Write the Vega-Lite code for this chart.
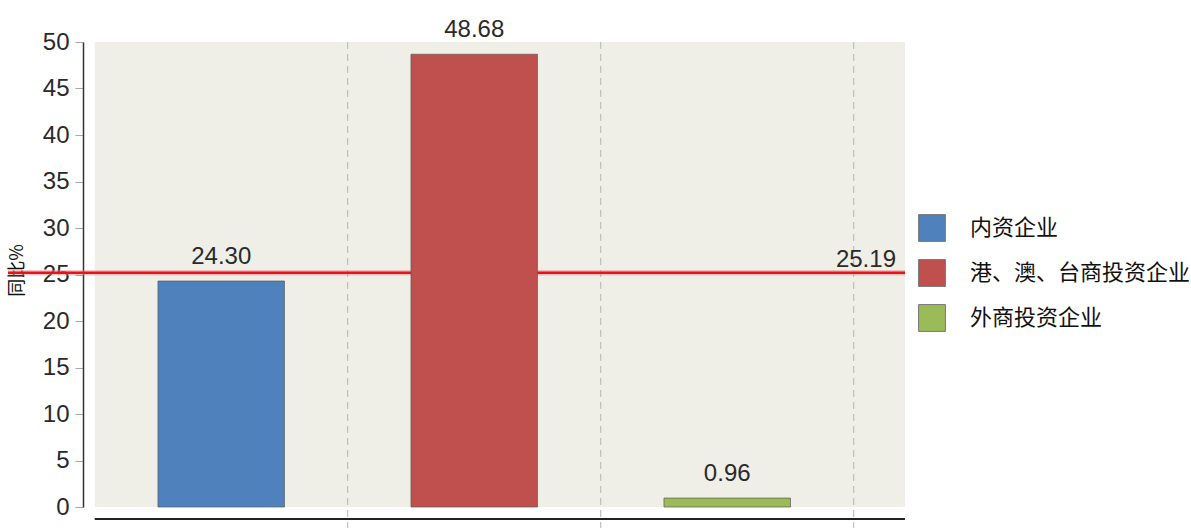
{
  "$schema": "https://vega.github.io/schema/vega-lite/v6.json",
  "width": 897,
  "height": 465,
  "padding": {"left": 8, "top": 42, "right": 286, "bottom": 21},
  "autosize": {"type": "none"},
  "background": "white",
  "config": {"view": {"stroke": null}},
  "datasets": {
    "bars": [
      {"类别": "内资企业", "同比": 24.30},
      {"类别": "港、澳、台商投资企业", "同比": 48.68},
      {"类别": "外商投资企业", "同比": 0.96}
    ],
    "avg": [{"平均": 25.19}]
  },
  "layer": [
    {
      "data": {"name": "avg"},
      "mark": {"type": "rect", "fill": "#efefe8"},
      "encoding": {
        "x": {"datum": "内资企业", "type": "nominal", "bandPosition": -0.5, "axis": null},
        "x2": {"datum": "外商投资企业", "bandPosition": 1.905},
        "y": {
          "datum": 0,
          "type": "quantitative",
          "scale": {"domain": [0, 50], "nice": false},
          "axis": {
            "offset": -75,
            "values": [0, 5, 10, 15, 20, 25, 30, 35, 40, 45, 50],
            "tickSize": 8,
            "tickColor": "#a8a8a8",
            "domainColor": "#333333",
            "domainWidth": 1.5,
            "grid": false,
            "labelFont": "Liberation Sans",
            "labelFontSize": 24,
            "labelColor": "#2a2a2a",
            "labelPadding": 6,
            "title": "同比%",
            "titleFont": "Noto Sans CJK SC",
            "titleFontSize": 18,
            "titleFontWeight": "normal",
            "titleColor": "#111111",
            "titleX": -57,
            "titleY": 228
          }
        },
        "y2": {"datum": 50}
      }
    },
    {
      "data": {"name": "bars"},
      "mark": {"type": "rule", "stroke": "#b4b4b4", "strokeWidth": 1, "strokeDash": [7, 5]},
      "encoding": {
        "x": {"field": "类别", "type": "nominal", "bandPosition": 1.5, "axis": null, "sort": null},
        "y": {"datum": 50, "type": "quantitative"},
        "y2": {"datum": -2.3}
      }
    },
    {
      "data": {"name": "avg"},
      "mark": {"type": "rule", "stroke": "#f08080", "strokeWidth": 5.5, "opacity": 0.45},
      "encoding": {
        "y": {"field": "平均", "type": "quantitative"}
      }
    },
    {
      "data": {"name": "avg"},
      "mark": {"type": "rule", "stroke": "#e3141b", "strokeWidth": 2.5},
      "encoding": {
        "y": {"field": "平均", "type": "quantitative"}
      }
    },
    {
      "data": {"name": "bars"},
      "mark": {"type": "bar", "stroke": "#5a5a5a", "strokeOpacity": 0.7, "strokeWidth": 1},
      "encoding": {
        "x": {
          "field": "类别",
          "type": "nominal",
          "sort": null,
          "axis": null,
          "scale": {
            "type": "band",
            "domain": ["内资企业", "港、澳、台商投资企业", "外商投资企业"],
            "paddingInner": 0.5,
            "paddingOuter": 0.5227,
            "align": 0.567
          }
        },
        "y": {"field": "同比", "type": "quantitative"},
        "color": {
          "field": "类别",
          "type": "nominal",
          "scale": {
            "domain": ["内资企业", "港、澳、台商投资企业", "外商投资企业"],
            "range": ["#4f81bd", "#c0504d", "#9bbb59"]
          },
          "legend": {
            "orient": "none",
            "legendX": 910,
            "legendY": 172,
            "title": null,
            "symbolType": "square",
            "symbolSize": 720,
            "symbolStrokeColor": "#777777",
            "symbolStrokeWidth": 1,
            "symbolOpacity": 1,
            "labelFont": "Noto Sans CJK SC",
            "labelFontSize": 22,
            "labelColor": "#111111",
            "labelOffset": 24,
            "rowPadding": 13,
            "labelLimit": 400
          }
        }
      }
    },
    {
      "data": {"name": "bars"},
      "mark": {"type": "text", "font": "Liberation Sans", "fontSize": 24, "color": "#2a2a2a", "baseline": "alphabetic", "dy": -17},
      "encoding": {
        "x": {"field": "类别", "type": "nominal", "sort": null, "axis": null},
        "y": {"field": "同比", "type": "quantitative"},
        "text": {"field": "同比", "type": "quantitative", "format": ".2f"}
      }
    },
    {
      "data": {"name": "avg"},
      "mark": {"type": "text", "font": "Liberation Sans", "fontSize": 24, "color": "#2a2a2a", "align": "right", "baseline": "alphabetic", "dy": -6},
      "encoding": {
        "x": {"datum": "外商投资企业", "type": "nominal", "bandPosition": 1.834, "axis": null},
        "y": {"field": "平均", "type": "quantitative"},
        "text": {"field": "平均", "type": "quantitative", "format": ".2f"}
      }
    },
    {
      "data": {"name": "avg"},
      "mark": {"type": "rule", "stroke": "#222222", "strokeWidth": 2},
      "encoding": {
        "x": {"datum": "内资企业", "type": "nominal", "bandPosition": -0.5, "axis": null},
        "x2": {"datum": "外商投资企业", "bandPosition": 1.905},
        "y": {"datum": -1.29, "type": "quantitative"}
      }
    }
  ]
}
